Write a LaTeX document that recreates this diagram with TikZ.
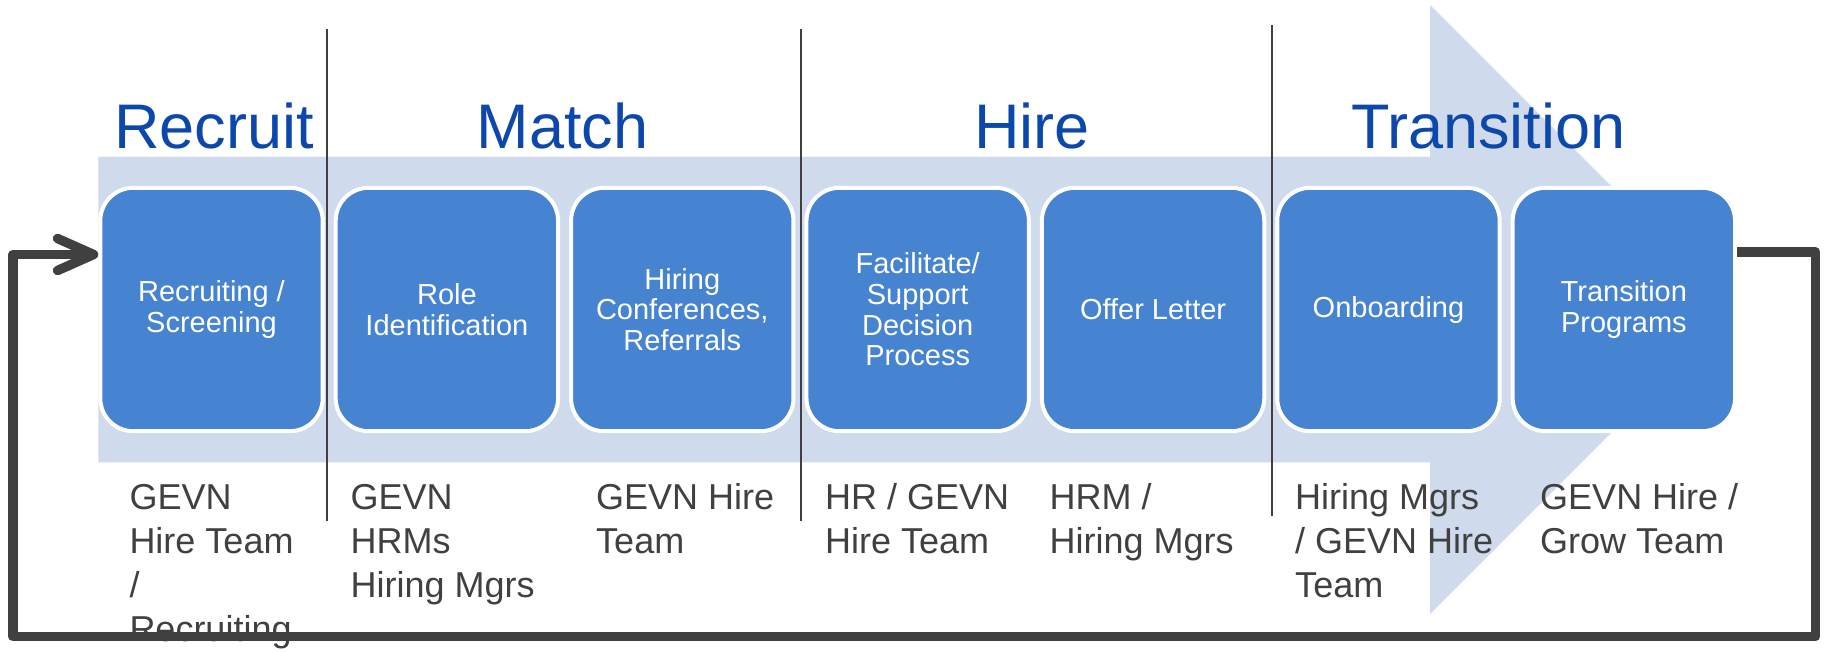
\documentclass[tikz,border=0pt]{standalone}
\usepackage{fontspec}
\setmainfont{Liberation Sans}
\usetikzlibrary{arrows.meta}
\definecolor{bandblue}{RGB}{207,218,237}
\definecolor{boxblue}{RGB}{70,131,208}
\definecolor{titleblue}{RGB}{12,71,171}
\definecolor{dkgray}{RGB}{64,64,64}
\begin{document}
\begin{tikzpicture}[x=1pt,y=-1pt,
  stepbox/.style={draw=white, line width=4pt, fill=boxblue, rounded corners=33pt,
    minimum width=222.4pt, minimum height=243.4pt, inner sep=0pt, text=white,
    align=center, font=\fontsize{29}{30.7}\selectfont},
  phase/.style={anchor=base, text=titleblue, font=\fontsize{63}{70}\selectfont, inner sep=0pt},
  who/.style={anchor=base west, text=dkgray, font=\fontsize{36}{44.3}\selectfont, inner sep=0pt},
  sepline/.style={draw=dkgray, line width=2pt},
  fb/.style={draw=dkgray, line width=9.5pt, line join=round}
]
\useasboundingbox (0,0) rectangle (1825,651);
% background chevron band
\fill[bandblue] (98.3,156.7) -- (1430,156.7) -- (1430,5) -- (1734.5,309.5)
  -- (1430,614) -- (1430,462.3) -- (98.3,462.3) -- cycle;
% separators
\draw[sepline] (326.7,29.3) -- (326.7,520.7);
\draw[sepline] (801.3,29.3) -- (801.3,520.7);
\draw[sepline] (1271.7,25) -- (1271.7,516);
% phase titles
\node[phase] (t1) at (214.2,148.3) {Recruit};
\node[phase] (t2) at (562.5,148.3) {Match};
\node[phase] (t3) at (1031.8,148.3) {Hire};
\node[phase] (t4) at (1488.4,148.3) {Transition};
% steps
\node[stepbox] (b1) at (211.5,309.5) {Recruiting /\\Screening};
\node[stepbox] (b2) at (446.89,309.5) {Role\\Identification};
\node[stepbox] (b3) at (682.28,309.5) {Hiring\\Conferences,\\Referrals};
\node[stepbox] (b4) at (917.67,309.5) {Facilitate/\\Support\\Decision\\Process};
\node[stepbox] (b5) at (1153.06,309.5) {Offer Letter};
\node[stepbox] (b6) at (1388.45,309.5) {Onboarding};
\node[stepbox] (b7) at (1623.84,309.5) {Transition\\Programs};
% owners
\node[who] (w1) at (129.3,509) {\vtop{\hbox{GEVN}\hbox{Hire Team}\hbox{/}\hbox{Recruiting}}};
\node[who] (w2) at (350.4,509) {\vtop{\hbox{GEVN}\hbox{HRMs}\hbox{Hiring Mgrs}}};
\node[who] (w3) at (596,509) {\vtop{\hbox{GEVN Hire}\hbox{Team}}};
\node[who] (w4) at (825,509) {\vtop{\hbox{HR / GEVN}\hbox{Hire Team}}};
\node[who] (w5) at (1049.4,509) {\vtop{\hbox{HRM /}\hbox{Hiring Mgrs}}};
\node[who] (w6) at (1295,509) {\vtop{\hbox{Hiring Mgrs}\hbox{/ GEVN Hire}\hbox{Team}}};
\node[who] (w7) at (1540,509) {\vtop{\hbox{GEVN Hire /}\hbox{Grow Team}}};
% feedback loop
\coordinate (fr) at (1815.7,636.7);
\coordinate (fl) at (13,636.7);
\draw[fb, -{Straight Barb[length=36pt,width=32pt,round]}]
  ([yshift=57.5pt]b7.east) -| (fr) -- (fl) |- ([yshift=55pt]b1.west);
\end{tikzpicture}
\end{document}
